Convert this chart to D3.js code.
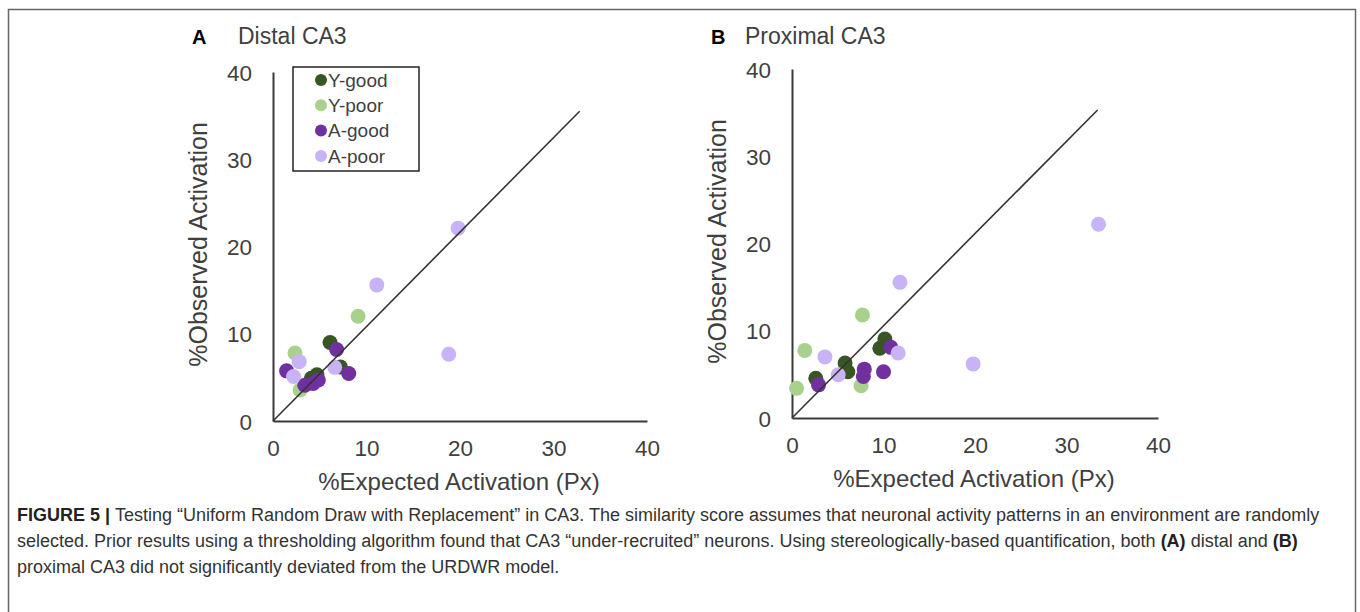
<!DOCTYPE html>
<html>
<head>
<meta charset="utf-8">
<script src="https://cdn.jsdelivr.net/npm/d3@7"></script>
<style>
  body { margin: 0; background: #fff; }
  svg text { font-family: "Liberation Sans", Arial, sans-serif; }
</style>
</head>
<body>
<div id="graph"></div>
<script>
"use strict";

let width = 1360,
    height = 612;

const groups = ["Y-good", "Y-poor", "A-good", "A-poor"];
const groupColors = ["#375623", "#a9d18e", "#7030a0", "#c9b3f7"];
const axisTicks = [0, 10, 20, 30, 40];

// panel A - distal CA3 (x = %expected, y = %observed)
const distalYgoodX = [6.1, 7.2, 4.7, 4.1];
const distalYgoodY = [9.0, 6.2, 5.3, 4.9];
const distalYpoorX = [9.1, 2.35, 2.9];
const distalYpoorY = [12.0, 7.8, 3.55];
const distalAgoodX = [6.8, 8.1, 1.45, 3.4, 4.3, 4.85];
const distalAgoodY = [8.2, 5.45, 5.75, 4.1, 4.3, 4.7];
const distalApoorX = [19.8, 11.1, 18.8, 2.8, 2.2, 6.6];
const distalApoorY = [22.1, 15.6, 7.65, 6.8, 5.1, 6.15];
const distalLine = [[0, 0], [32.8, 35.5]];

// panel B - proximal CA3
const proxYgoodX = [2.6, 5.8, 6.1, 10.15, 9.6];
const proxYgoodY = [4.55, 6.3, 5.3, 9.05, 8.0];
const proxYpoorX = [7.7, 1.4, 0.5, 7.55];
const proxYpoorY = [11.8, 7.75, 3.4, 3.7];
const proxAgoodX = [2.9, 7.9, 7.8, 10.0, 10.8];
const proxAgoodY = [3.8, 5.6, 4.75, 5.3, 8.1];
const proxApoorX = [11.8, 3.6, 11.6, 5.05, 33.5, 19.8];
const proxApoorY = [15.55, 7.0, 7.45, 4.95, 22.2, 6.2];
const proxLine = [[0, 0], [33.4, 35.3]];

const captionLines = [
  [["FIGURE 5 | ", true], ["Testing \u201cUniform Random Draw with Replacement\u201d in CA3. The similarity score assumes that neuronal activity patterns in an environment are randomly", false]],
  [["selected. Prior results using a thresholding algorithm found that CA3 \u201cunder-recruited\u201d neurons. Using stereologically-based quantification, both ", false], ["(A)", true], [" distal and ", false], ["(B)", true]],
  [["proximal CA3 did not significantly deviated from the URDWR model.", false]]
];

let svg = d3.select("#graph")
  .append("svg")
  .attr("width", width)
  .attr("height", height);

// outer frame
svg.append("rect")
  .attr("x", 8.5).attr("y", 9.5)
  .attr("width", 1347).attr("height", 640)
  .attr("fill", "none")
  .attr("stroke", "#666")
  .attr("stroke-width", 1.5);

function makePoints(xs, ys) {
  return xs.map((x, i) => ({ x: x, y: ys[i] }));
}

const panels = [
  {
    letter: "A", title: "Distal CA3",
    xr: [273, 647], yr: [421, 72],
    letterX: 192, titleX: 238, titleY: 44,
    series: [makePoints(distalYgoodX, distalYgoodY), makePoints(distalYpoorX, distalYpoorY),
             makePoints(distalAgoodX, distalAgoodY), makePoints(distalApoorX, distalApoorY)],
    line: distalLine, legend: true
  },
  {
    letter: "B", title: "Proximal CA3",
    xr: [792, 1158], yr: [418, 69],
    letterX: 711, titleX: 745, titleY: 44,
    series: [makePoints(proxYgoodX, proxYgoodY), makePoints(proxYpoorX, proxYpoorY),
             makePoints(proxAgoodX, proxAgoodY), makePoints(proxApoorX, proxApoorY)],
    line: proxLine, legend: false
  }
];

panels.forEach(drawPanel);

function drawPanel(p) {
  let x = d3.scaleLinear().domain([0, 40]).range(p.xr);
  let y = d3.scaleLinear().domain([0, 40]).range(p.yr);
  let g = svg.append("g");

  // x axis
  let xAxis = g.append("g")
    .attr("transform", "translate(0," + p.yr[0] + ")")
    .call(d3.axisBottom(x).tickValues(axisTicks).tickSize(0).tickSizeOuter(0).tickPadding(19));
  // y axis
  let yAxis = g.append("g")
    .attr("transform", "translate(" + p.xr[0] + ",0)")
    .call(d3.axisLeft(y).tickValues(axisTicks).tickSize(0).tickSizeOuter(0).tickPadding(21));

  [xAxis, yAxis].forEach(a => {
    a.select(".domain").attr("stroke", "#3a3a3a").attr("stroke-width", 2);
    a.selectAll("text")
      .style("font-size", "22.5px")
      .style("font-family", "'Liberation Sans', Arial, sans-serif")
      .attr("fill", "#3f3f3f");
  });
  yAxis.selectAll("text").attr("dy", "0.36em");

  // points
  p.series.forEach((pts, i) => {
    g.append("g").selectAll("circle")
      .data(pts)
      .enter()
      .append("circle")
      .attr("cx", d => x(d.x))
      .attr("cy", d => y(d.y))
      .attr("r", 7.5)
      .attr("fill", groupColors[i]);
  });

  // y = x line
  g.append("path")
    .datum(p.line)
    .attr("fill", "none")
    .attr("stroke", "#333")
    .attr("stroke-width", 1.6)
    .attr("d", d3.line().x(d => x(d[0])).y(d => y(d[1])));

  // panel letter + title
  g.append("text")
    .attr("x", p.letterX).attr("y", p.titleY)
    .style("font-size", "20px").style("font-weight", "bold")
    .attr("fill", "#000")
    .text(p.letter);
  g.append("text")
    .attr("x", p.titleX).attr("y", p.titleY)
    .style("font-size", "23px")
    .attr("fill", "#3f3f3f")
    .text(p.title);

  // axis titles
  let xMid = (p.xr[0] + p.xr[1]) / 2;
  g.append("text")
    .attr("x", xMid - 1).attr("y", p.yr[0] + 69)
    .attr("text-anchor", "middle")
    .style("font-size", "24px")
    .attr("fill", "#3f3f3f")
    .text("%Expected Activation (Px)");
  let yMid = (p.yr[0] + p.yr[1]) / 2;
  g.append("text")
    .attr("transform", "translate(" + (p.xr[0] - 66) + "," + (yMid - 2) + ") rotate(-90)")
    .attr("text-anchor", "middle")
    .style("font-size", "25px")
    .attr("fill", "#3f3f3f")
    .text("%Observed Activation");

  if (p.legend) makeLegend(g);
}

function makeLegend(g) {
  let lg = g.append("g").attr("transform", "translate(293,67)");
  lg.append("rect")
    .attr("width", 126).attr("height", 104)
    .attr("fill", "#fff")
    .attr("stroke", "#222")
    .attr("stroke-width", 1.5);
  let item = lg.selectAll(".item")
    .data(groups)
    .enter()
    .append("g")
    .attr("transform", (d, i) => "translate(0," + (13 + i * 25.3) + ")");
  item.append("circle")
    .attr("cx", 28).attr("cy", 0).attr("r", 6)
    .attr("fill", (d, i) => groupColors[i]);
  item.append("text")
    .attr("x", 35).attr("y", 0).attr("dy", "0.35em")
    .style("font-size", "19px")
    .attr("fill", "#3f3f3f")
    .text(d => d);
}

// caption
let cap = svg.append("g");
captionLines.forEach((line, i) => {
  let t = cap.append("text")
    .attr("x", 17).attr("y", 521 + i * 26)
    .style("font-family", "'Liberation Sans', Arial, sans-serif")
    .style("font-size", "18px")
    .attr("fill", "#333");
  line.forEach(seg => {
    t.append("tspan")
      .style("font-weight", seg[1] ? "bold" : "normal")
      .attr("fill", seg[1] ? "#222" : "#333")
      .text(seg[0]);
  });
});
</script>
</body>
</html>
